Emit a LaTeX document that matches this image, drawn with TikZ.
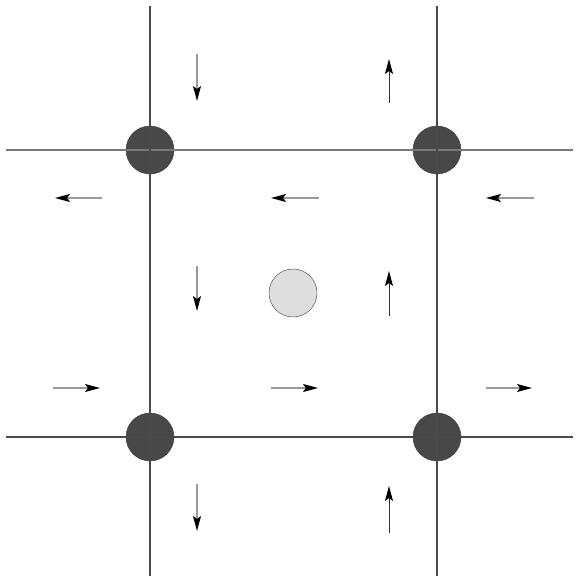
\documentclass[tikz,border=0pt]{standalone}
\usepackage{xcolor}
\usepackage{tikz}
\usetikzlibrary{arrows.meta}
\definecolor{cellDark}{HTML}{484848}
\definecolor{cellLight}{HTML}{DEDEDE}
\definecolor{cellEdge}{HTML}{3A3A3A}
\definecolor{gridLine}{HTML}{4A4A4A}
\definecolor{gridPale}{HTML}{7A7A7A}
\definecolor{shaftGrey}{HTML}{9A9A9A}

\begin{document}
\begin{tikzpicture}[x=1pt,y=-1pt]
  \tikzset{vortex/.style={circle,draw=cellEdge,fill=cellDark,minimum size=48pt,inner sep=0pt},
    probe/.style={circle,draw=cellEdge,fill=cellLight,minimum size=48pt,inner sep=0pt},
    flow/.style={-{Stealth[length=15pt,width=8pt,inset=3pt,black]},line width=1pt,black!80},
    flowpale/.style={flow,shaftGrey,line width=1.3pt}}
  \useasboundingbox (0,0) rectangle (579,581);
  % cells and probe
  \node[vortex] (nw) at (150,150) {};
  \node[vortex] (ne) at (437,150) {};
  \node[vortex] (sw) at (150,437) {};
  \node[vortex] (se) at (437,437) {};
  \node[probe] (pr) at (293,293) {};
  % lattice lines
  \draw[gridPale,line width=1.1pt] (6,150) -- (573,150);
  \draw[gridLine,line width=1.1pt] (6,437) -- (573,437);
  \draw[gridLine,line width=1.1pt] (150,6) -- (150,576);
  \draw[gridLine,line width=1.1pt] (437,6) -- (437,576);
  % down arrows
  \foreach \ya/\yb in {54/101,266/311,484/531}
    \draw[flowpale] (197,\ya) -- (197,\yb);
  % up arrows
  \foreach \ya/\yb in {103/59,316/271,533/486}
    \draw[flow] (389,\ya) -- (389,\yb);
  % left arrows
  \foreach \xa/\xb in {102/55,319/271,534/486}
    \draw[flowpale] (\xa,198) -- (\xb,198);
  % right arrows
  \foreach \xa/\xb in {53/100,271/318,486/532}
    \draw[flowpale] (\xa,388) -- (\xb,388);
\end{tikzpicture}
\end{document}
